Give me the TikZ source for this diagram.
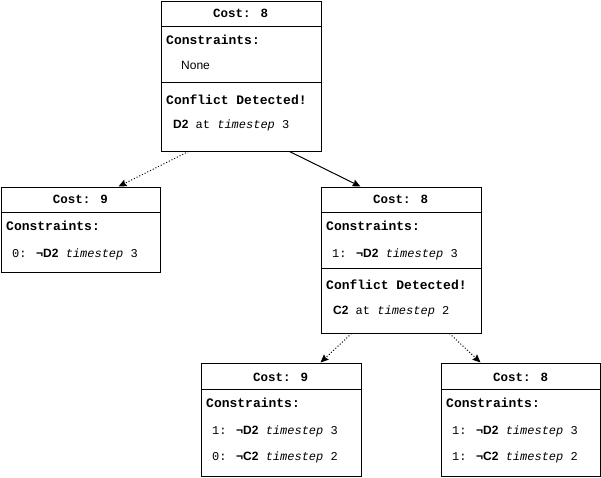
\documentclass[tikz,border=0pt]{standalone}
\usepackage{fontspec}
\setmainfont{Liberation Sans}
\newfontfamily\mono{Liberation Mono}
\usetikzlibrary{arrows.meta}
\tikzset{
  box/.style={draw, line width=1pt, minimum width=160pt, inner sep=0pt, anchor=north west},
  head/.style={anchor=center, inner sep=0pt, font=\mono\bfseries\fontsize{12.5}{14}\selectfont},
  title/.style={anchor=west, inner sep=0pt, font=\mono\bfseries\fontsize{13}{15}\selectfont},
  txt/.style={anchor=west, inner sep=0pt, font=\mono\fontsize{12}{14}\selectfont},
  divider/.style={line width=1pt},
  solidarrow/.style={line width=1pt, -{Stealth[length=8pt,width=7pt,inset=1pt]}},
  dotarrow/.style={line width=1pt, dash pattern=on 1pt off 2pt, -{Stealth[length=8pt,width=7pt,inset=1pt]}}
}
\newcommand{\negb}[1]{{\normalfont\bfseries\fontsize{12}{14}\selectfont ¬#1}}
\newcommand{\bnm}[1]{{\normalfont\bfseries\fontsize{12}{14}\selectfont #1}}
\newcommand{\ts}{{\itshape timestep}}
\begin{document}
\begin{tikzpicture}[x=1pt,y=-1pt]
\useasboundingbox (0,0) rectangle (601,477);
% root
\node[box, minimum height=150pt] (root) at (160.5,0.5) {};
\draw[divider] (160.5,26) -- (320.5,26);
\draw[divider] (160.5,82) -- (320.5,82);
\node[head] (rootcost) at (240.5,13) {Cost: 8};
\node[title] (rootcons) at (166,40) {Constraints:};
\node[txt, font=\normalfont\fontsize{12}{14}\selectfont] (rootnone) at (181,65) {None};
\node[title] (rootconf) at (166,100) {Conflict Detected!};
\node[txt] (rootd) at (173,125) {\bnm{D2} at \ts{} 3};
% left
\node[box, minimum width=159.5pt, minimum height=85pt] (left) at (0.5,186.5) {};
\draw[divider] (0.5,212) -- (160,212);
\node[head] (leftcost) at (80.5,199) {Cost: 9};
\node[title] (leftcons) at (6,226) {Constraints:};
\node[txt] (leftc1) at (12,254) {0: \negb{D2} \ts{} 3};
% middle
\node[box, minimum height=146pt] (mid) at (320.5,186.5) {};
\draw[divider] (320.5,212) -- (480.5,212);
\draw[divider] (320.5,268) -- (480.5,268);
\node[head] (midcost) at (400.5,199) {Cost: 8};
\node[title] (midcons) at (326,226) {Constraints:};
\node[txt] (midc1) at (332,254) {1: \negb{D2} \ts{} 3};
\node[title] (midconf) at (326,285) {Conflict Detected!};
\node[txt] (midd) at (333,311) {\bnm{C2} at \ts{} 2};
% bottom left
\node[box, minimum height=113pt] (bl) at (200.5,362.5) {};
\draw[divider] (200.5,389) -- (360.5,389);
\node[head] (blcost) at (280.5,377) {Cost: 9};
\node[title] (blcons) at (206,403) {Constraints:};
\node[txt] (blc1) at (212,431) {1: \negb{D2} \ts{} 3};
\node[txt] (blc2) at (212,457) {0: \negb{C2} \ts{} 2};
% bottom right
\node[box, minimum width=159.5pt, minimum height=113pt] (br) at (440.5,362.5) {};
\draw[divider] (440.5,389) -- (600,389);
\node[head] (brcost) at (520.5,377) {Cost: 8};
\node[title] (brcons) at (446,403) {Constraints:};
\node[txt] (brc1) at (452,431) {1: \negb{D2} \ts{} 3};
\node[txt] (brc2) at (452,457) {1: \negb{C2} \ts{} 2};
% arrows
\draw[dotarrow] (root.south west) ++(28,0) -- ([xshift=118pt]left.north west);
\draw[solidarrow] (root.south west) ++(129,0) -- ([xshift=40pt]mid.north west);
\draw[dotarrow] (mid.south west) ++(31,0) -- ([xshift=120pt]bl.north west);
\draw[dotarrow] (mid.south west) ++(129,0) -- ([xshift=40pt]br.north west);
\end{tikzpicture}
\end{document}
